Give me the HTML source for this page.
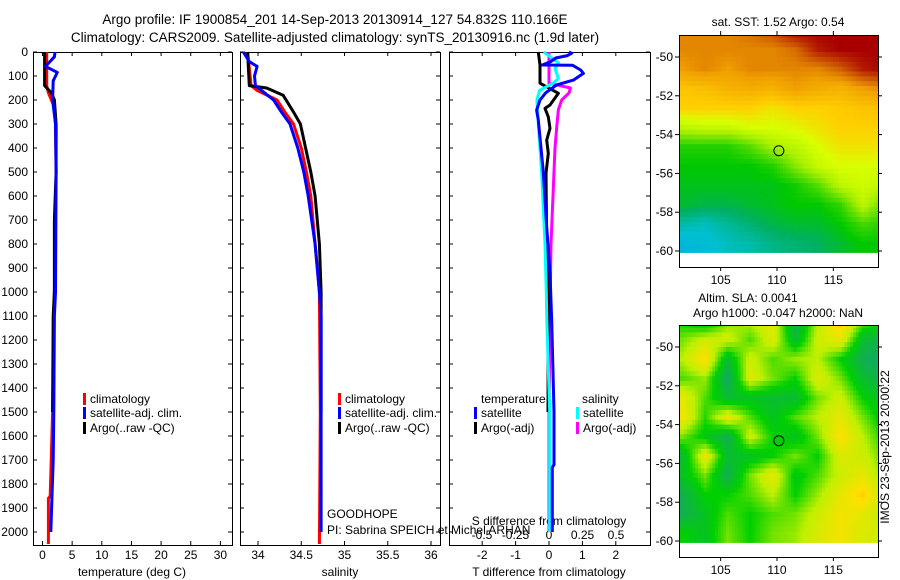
<!DOCTYPE html>
<html><head><meta charset="utf-8"><style>
body{margin:0;background:#fff}
svg{display:block;font-family:"Liberation Sans",sans-serif;font-size:12px}
</style></head><body>
<svg id="fig" width="900" height="580" viewBox="0 0 900 580">
<text x="335" y="24" text-anchor="middle" font-size="13.5">Argo profile: IF 1900854_201 14-Sep-2013 20130914_127 54.832S 110.166E</text>
<text x="335" y="42" text-anchor="middle" font-size="13.5">Climatology: CARS2009. Satellite-adjusted climatology: synTS_20130916.nc (1.9d later)</text>
<g id="g"></g>
</svg>
<script>
// ---------- data ----------
const depthTicks=[0,100,200,300,400,500,600,700,800,900,1000,1100,1200,1300,1400,1500,1600,1700,1800,1900,2000];
const tempTicks=[0,5,10,15,20,25,30];
const salTicks=[34,34.5,35,35.5,36];
const tdiffTicks=[-2,-1,0,1,2];
const sdiffTickLabels=["-0.5","-0.25","0","0.25","0.5"];
const sdiffTicks=[-0.5,-0.25,0,0.25,0.5];
// temperature profiles [depth, value]
const tempClim=[[0,0.7],[140,0.7],[170,1.0],[230,2.0],[300,2.2],[500,2.3],[1000,2.0],[1500,1.7],[1850,1.3],[1860,1.0],[2050,1.0]];
const tempSat=[[0,2.1],[20,2.0],[60,0.5],[85,2.5],[120,1.8],[200,1.7],[300,2.2],[500,2.3],[1000,2.2],[1100,2.0],[1500,1.9],[1700,1.8],[2000,1.4]];
const tempArgo=[[0,0.35],[140,0.35],[170,1.5],[200,2.0],[300,2.3],[500,2.3],[700,2.0],[1000,2.0],[1100,1.8],[1500,1.7]];
// salinity profiles
const salClim=[[0,33.88],[140,33.92],[160,33.99],[200,34.22],[250,34.31],[300,34.41],[400,34.5],[500,34.56],[600,34.61],[800,34.66],[1000,34.71],[1500,34.72],[2050,34.71]];
const salSat=[[0,33.83],[40,33.9],[60,33.99],[100,33.96],[140,33.97],[200,34.18],[250,34.27],[300,34.37],[400,34.46],[500,34.53],[600,34.58],[800,34.66],[1000,34.71],[1100,34.73],[2000,34.73]];
const salArgo=[[0,33.88],[140,33.9],[150,34.1],[180,34.29],[250,34.41],[300,34.49],[400,34.55],[500,34.61],[600,34.66],[800,34.71],[1000,34.73],[1500,34.73]];
// differences
const tdiffSat=[[0,0.6],[5,0.68],[15,0.55],[25,0.2],[40,0.05],[54,-0.2],[55,0.7],[75,0.95],[89,1.03],[117,0.73],[137,0.23],[170,-0.1],[200,-0.27],[242,-0.37],[283,-0.32],[500,-0.17],[730,-0.07],[920,0.03],[1120,0.08],[1500,0.15],[1720,0.15],[1730,0.1],[2000,0.1]];
const tdiffArgo=[[0,-0.32],[54,-0.27],[130,-0.27],[172,0.28],[221,0.03],[235,-0.12],[270,-0.02],[318,0.03],[367,-0.07],[422,-0.02],[506,-0.09],[800,-0.07],[922,-0.02],[1500,-0.03]];
const sdiffSat=[[0,-0.04],[20,0.01],[45,0.07],[70,0.045],[110,0.07],[130,0.03],[160,-0.07],[200,-0.09],[300,-0.08],[500,-0.055],[800,-0.03],[1000,-0.02],[1100,-0.017],[1500,0.005],[2000,0.005]];
const sdiffArgo=[[0,0],[130,0],[150,0.16],[170,0.15],[200,0.095],[240,0.07],[300,0.06],[400,0.045],[600,0.03],[800,0.015],[1000,0.01],[1500,0.0],[2000,0.0]];
// maps: coarse grids, rows lat -48.5..-59.5, cols lon 101.5..119.5
const mapLats=[-48.5,-49.5,-50.5,-51.5,-52.5,-53.5,-54.5,-55.5,-56.5,-57.5,-58.5,-59.5];
const mapLons=[101.5,103.5,105.5,107.5,109.5,111.5,113.5,115.5,117.5,119.5];
const sstGrid=[
[5,5,5,5.2,5.5,6,6,6,6,6],[5,5,5,5,5,5.2,5.8,6,6,6],[4.8,5,4.8,5,5,5,5,5.3,5.8,6],
[4.2,4.3,4.5,4.6,4.5,4.8,4.6,4.5,4.8,5],[4,4,4,4,3.8,4,4,4.1,4.2,4.3],[3.2,3.3,3.3,3.5,3.5,3.6,3.8,4,4,4],
[2.2,2.2,2.2,2.5,3,3.2,3.5,3.8,3.8,3.8],[2,2,2,2,2.2,2.8,3.3,3.5,3.5,3.5],[1.9,1.9,1.9,1.9,1.9,2.1,2.5,3.2,3.4,3.2],
[1.8,1.7,1.7,1.8,1.9,2,2,2.3,3.2,2.5],[1.2,1.1,1.3,1.5,1.7,1.8,1.8,2,2.4,2.2],[0.8,0.9,1.1,1.2,1.4,1.5,1.6,1.8,2,2]];
const slaGrid=[
[0,-0.3,0.3,0.5,0.8,-0.6,0.5,1.2,0.3,0],[0.3,0.6,0.6,0.2,0.7,-0.3,0.6,0.8,-0.3,-0.5],[0.5,1.0,-0.3,0.6,0.2,0.4,0.5,0,-0.5,-0.7],
[0.2,0.4,-0.6,0.7,0.3,0,0.7,0.3,-0.3,-0.5],[0.8,0.2,-0.3,-0.2,-0.3,-0.3,0.3,0.6,0,-0.3],[0.9,0.1,0.8,0.2,-0.2,0.2,0.5,0.8,0.3,-0.2],
[0.3,-0.1,-0.5,0.6,0,-0.2,0.3,1.0,0.5,0],[-0.3,0.8,-0.3,-0.2,0,0.3,0,0.7,0.6,0.2],[-0.2,0.3,-0.5,0.3,0.8,-0.1,0.2,0.6,0.8,0.3],
[-0.5,0,0,0.2,0.5,0,0.4,0.8,1.1,0.5],[-0.5,-0.2,0.2,0,0.2,0.3,0.6,0.9,0.8,0.4],[0,-0.2,0.3,0,0.3,0.4,0.7,0.9,0.7,0.6]];
const argoLon=110.166, argoLat=-54.832;
const lonTicks=[105,110,115], latTicks=[-50,-52,-54,-56,-58,-60];

// ---------- helpers ----------
const NS="http://www.w3.org/2000/svg", G=document.getElementById('g');
function el(t,a,p){const e=document.createElementNS(NS,t);for(const k in a)e.setAttribute(k,a[k]);(p||G).appendChild(e);return e;}
const Y=d=>52+d*0.24;
const xT=v=>42.5+v*5.93, xS=v=>258+(v-34)*86.5, xTd=v=>549+v*33.4, xSd=v=>549+v*134;
function line(data,fx,col,w,name){
  const e=el('polyline',{points:data.map(p=>fx(p[1]).toFixed(1)+','+Y(p[0]).toFixed(1)).join(' '),fill:'none',stroke:col,'stroke-width':w,'stroke-linejoin':'round'});
  
  
}
function txt(x,y,s,anchor,name,extra){const e=el('text',Object.assign({x:x,y:y,'text-anchor':anchor||'start'},extra||{}));e.textContent=s;
  
  return e;}
function box(x0,x1,y0,y1,name){const e=el('rect',{x:x0+.5,y:y0+.5,width:x1-x0,height:y1-y0,fill:'none',stroke:'#000','stroke-width':1});
  
  }
function tick(x1,y1,x2,y2){el('line',{x1:x1,y1:y1,x2:x2,y2:y2,stroke:'#000','stroke-width':1});}

// ---------- panels ----------
const panels=[[33,232,'temperature-panel'],[240,440,'salinity-panel'],[449,650,'difference-panel']];
const B=545;
panels.forEach(p=>{
  box(p[0],p[1],52,B,p[2]);
  depthTicks.forEach(d=>{tick(p[0],Y(d),p[0]+4,Y(d));tick(p[1]-4,Y(d),p[1],Y(d));});
});
depthTicks.forEach(d=>txt(28,Y(d)+4,String(d),'end','depth-tick-label'));
tempTicks.forEach(v=>{tick(xT(v),52,xT(v),56);tick(xT(v),B-4,xT(v),B);txt(xT(v),559,String(v),'middle','temp-tick-label');});
salTicks.forEach(v=>{tick(xS(v),52,xS(v),56);tick(xS(v),B-4,xS(v),B);txt(xS(v),559,String(v),'middle','sal-tick-label');});
tdiffTicks.forEach(v=>{tick(xTd(v),52,xTd(v),56);tick(xTd(v),B-4,xTd(v),B);txt(xTd(v),559,String(v),'middle','tdiff-tick-label');});
sdiffTicks.forEach((v,i)=>txt(xSd(v),539,sdiffTickLabels[i],'middle','sdiff-tick-label'));
txt(132,576,'temperature (deg C)','middle','temp-axis-title');
txt(340,576,'salinity','middle','sal-axis-title');
txt(549,576,'T difference from climatology','middle','tdiff-axis-title');
txt(549,525,'S difference from climatology','middle','sdiff-axis-title');
txt(327,518,'GOODHOPE','start','project-label');
txt(327,534,'PI: Sabrina SPEICH et Michel ARHAN','start','pi-label');

line(tempClim,xT,'#ff0000',3,'temp-climatology-line');
line(tempArgo,xT,'#000000',3,'temp-argo-line');
line(tempSat,xT,'#0000ff',3,'temp-satellite-line');
line(salClim,xS,'#ff0000',3,'sal-climatology-line');
line(salArgo,xS,'#000000',3,'sal-argo-line');
line(salSat,xS,'#0000ff',3,'sal-satellite-line');
line(sdiffArgo,xSd,'#ff00ff',3,'sdiff-argo-line');
line(tdiffArgo,xTd,'#000000',3,'tdiff-argo-line');
line(sdiffSat,xSd,'#00ffff',3,'sdiff-satellite-line');
line(tdiffSat,xTd,'#0000ff',3,'tdiff-satellite-line');

function legItem(x,y,col,label,name){
  const r=el('rect',{x:x,y:y-10,width:3,height:12,fill:col});
  
  
  txt(x+7,y,label,'start',name);
}
[[83,'temp'],[338,'sal']].forEach(a=>{
  legItem(a[0],403,'#ff0000','climatology',a[1]+'-legend-climatology');
  legItem(a[0],417,'#0000ff','satellite-adj. clim.',a[1]+'-legend-satellite');
  legItem(a[0],432,'#000000','Argo(..raw -QC)',a[1]+'-legend-argo');
});
txt(481,403,'temperature','start','diff-legend-temp-header');
txt(582,403,'salinity','start','diff-legend-sal-header');
legItem(474,417,'#0000ff','satellite','diff-legend-temp-satellite');
legItem(474,432,'#000000','Argo(-adj)','diff-legend-temp-argo');
legItem(576,417,'#00ffff','satellite','diff-legend-sal-satellite');
legItem(576,432,'#ff00ff','Argo(-adj)','diff-legend-sal-argo');

// ---------- maps ----------
function lerpCol(stops,v){
  if(v<=stops[0][0])return stops[0][1];
  for(let i=1;i<stops.length;i++){if(v<=stops[i][0]){const t=(v-stops[i-1][0])/(stops[i][0]-stops[i-1][0]);
    const a=stops[i-1][1],b=stops[i][1];return a.map((c,k)=>Math.round(c+(b[k]-c)*t));}}
  return stops[stops.length-1][1];
}
const sstStops=[[0,[0,144,255]],[1,[0,192,208]],[1.6,[0,176,96]],[2,[0,200,0]],[3,[168,240,0]],[3.5,[216,255,0]],[4,[255,208,0]],[4.8,[240,160,0]],[5.3,[208,96,0]],[6,[168,0,0]]];
const slaStops=[[-1,[0,160,160]],[-0.5,[16,176,80]],[0,[0,208,0]],[0.5,[192,240,0]],[1,[255,224,0]],[1.3,[240,176,0]]];
function interp(grid,lat,lon){
  let r=(mapLats[0]-lat)/1, c=(lon-mapLons[0])/2;
  r=Math.max(0,Math.min(mapLats.length-1.001,r)); c=Math.max(0,Math.min(mapLons.length-1.001,c));
  const r0=Math.floor(r),c0=Math.floor(c),fr=r-r0,fc=c-c0;
  const g=grid;
  return g[r0][c0]*(1-fr)*(1-fc)+g[r0][c0+1]*(1-fr)*fc+g[r0+1][c0]*fr*(1-fc)+g[r0+1][c0+1]*fr*fc;
}
function drawMap(top,grid,stops,name){
  const L=679,R=878,H=232;
  const px=lon=>777+(lon-110)*11.27, py=lat=>top+22+(-50-lat)*19.4;
  const grp=el('g',{});
  
  
  const d=0.25;
  for(let lat=-48.75;lat>-60.1;lat-=d){
    for(let lon=101.25;lon<119;lon+=d){
      const v=interp(grid,lat,lon);
      const c=lerpCol(stops,v);
      const x0=Math.max(L,px(lon)),x1=Math.min(R,px(lon+d)+0.6);
      const y0=Math.max(top,py(lat+d*0)),y1=Math.min(py(-60.1),py(lat-d)+0.6);
      if(x1>x0&&y1>y0)el('rect',{x:x0.toFixed(1),y:(y0-0).toFixed(1),width:(x1-x0).toFixed(1),height:(y1-y0).toFixed(1),fill:'rgb('+c.join(',')+')'},grp);
    }
  }
  // top strip fill
  box(L,R,top,top+H,name+'-frame');
  latTicks.forEach(v=>{tick(L-4,py(v),L,py(v));tick(R,py(v),R+4,py(v));txt(673,py(v)+4,String(v),'end',name+'-lat-label');});
  lonTicks.forEach(v=>{tick(px(v),top+H,px(v),top+H+4);tick(px(v),top-4,px(v),top);txt(px(v),top+H+17,String(v),'middle',name+'-lon-label');});
  const c=el('circle',{cx:px(argoLon),cy:py(argoLat),r:5,fill:'none',stroke:'#000','stroke-width':1});
  
  
}
drawMap(35,sstGrid,sstStops,'sst-map');
drawMap(325,slaGrid,slaStops,'sla-map');
txt(778,26,'sat. SST: 1.52 Argo: 0.54','middle','sst-map-title');
txt(748,302,'Altim. SLA: 0.0041','middle','sla-map-title');
txt(778,317,'Argo h1000: -0.047 h2000: NaN','middle','sla-map-subtitle');
txt(0,0,'IMOS 23-Sep-2013 20:00:22','middle','imos-timestamp',{transform:'translate(889,447) rotate(-90)'});
</script>
</body></html>
